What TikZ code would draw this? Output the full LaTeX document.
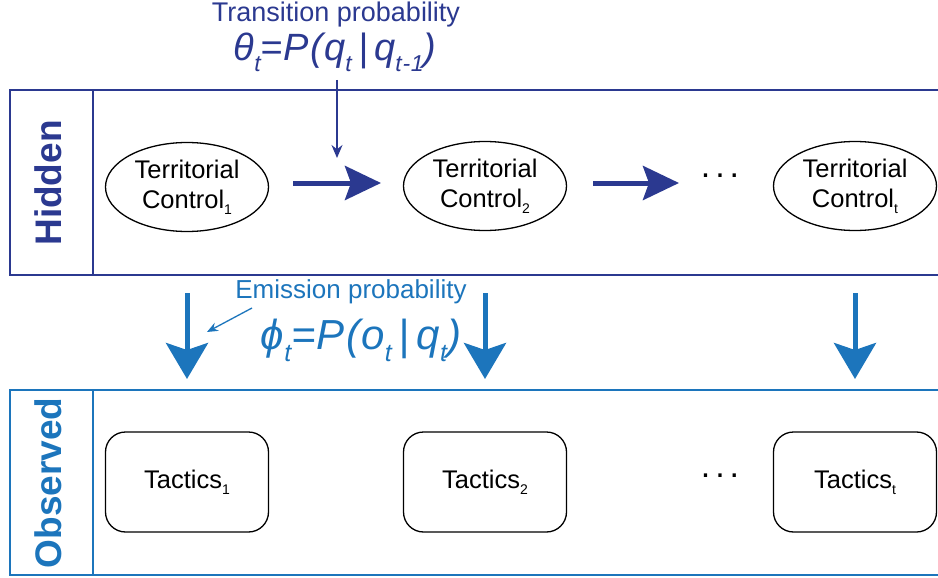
\documentclass[tikz,border=0pt]{standalone}
\usepackage{fontspec}
\setmainfont{Liberation Sans}
\newfontfamily\formfont[LetterSpace=3]{Liberation Sans}
\usetikzlibrary{arrows.meta,shapes.geometric}
\definecolor{hid}{RGB}{43,57,144}
\definecolor{obs}{RGB}{28,117,188}
\newcommand{\lowsub}[3]{\raisebox{-#2pt}{\fontsize{#1}{#1}\selectfont #3}}
\begin{document}
\begin{tikzpicture}[x=1pt,y=-1pt,
  state/.style={ellipse,draw,line width=1.3pt,minimum width=163pt,minimum height=89pt,inner sep=0pt,align=center,font=\fontsize{25.5}{30}\selectfont},
  obsbox/.style={rectangle,rounded corners=20pt,draw,line width=1.3pt,minimum width=163pt,minimum height=100pt,inner sep=0pt,font=\fontsize{25.5}{30}\selectfont},
  band/.style={line width=1.6pt},
  harrow/.style={line width=5pt,-{Stealth[length=36pt,width=34pt,inset=6pt]},color=hid},
  varrow/.style={line width=5pt,-{Stealth[length=36pt,width=42pt,inset=7pt]},color=obs},
  thinarrow/.style={line width=1.3pt,-{Stealth[length=13pt,width=11pt]}},
  dots/.style={font=\fontsize{34}{30}\selectfont},
  bandlabel/.style={rotate=90,font=\fontsize{37}{40}\selectfont\bfseries}
]
\useasboundingbox (0,0) rectangle (938,578);
% bands
\draw[band,hid] (10,90) rectangle (945,275);
\draw[band,hid] (93,90) -- (93,275);
\draw[band,obs] (10,390) rectangle (945,575);
\draw[band,obs] (93,390) -- (93,575);
\node[bandlabel,hid] (hl) at (48,183) {Hidden};
\node[bandlabel,obs] (ol) at (48,483) {Observed};
% hidden states
\node[state] (s1) at (187,187) {Territorial\\Control\lowsub{14}{6}{1}};
\node[state] (s2) at (485,186) {Territorial\\Control\lowsub{14}{6}{2}};
\node[state] (s3) at (855,186) {Territorial\\Control\lowsub{14}{6}{t}};
\node[dots] (hd) at (720,176) {.\hspace{5pt}.\hspace{5pt}.};
\coordinate (h1a) at (293,183);
\coordinate (h1b) at (381,183);
\coordinate (h2a) at (593,183);
\coordinate (h2b) at (679,183);
\draw[harrow] (h1a) -- (h1b);
\draw[harrow] (h2a) -- (h2b);
% observed
\node[obsbox] (o1) at (187,482) {Tactics\lowsub{14}{6}{1}};
\node[obsbox] (o2) at (485,482) {Tactics\lowsub{14}{6}{2}};
\node[obsbox] (o3) at (855,482) {Tactics\lowsub{14}{6}{t}};
\node[dots] (od) at (720,476) {.\hspace{5pt}.\hspace{5pt}.};
% emission arrows
\coordinate (v1a) at (187,293); \coordinate (v1b) at (187,379);
\coordinate (v2a) at (485,293); \coordinate (v2b) at (485,379);
\coordinate (v3a) at (855,293); \coordinate (v3b) at (855,379);
\draw[varrow] (v1a) -- (v1b);
\draw[varrow] (v2a) -- (v2b);
\draw[varrow] (v3a) -- (v3b);
% transition label
\node[hid,font=\fontsize{27}{30}\selectfont] (tl) at (336,15) {Transition probability};
\node[hid,font=\fontsize{38}{40}\selectfont\formfont\itshape] (tf) at (335,52) {θ\lowsub{23}{11}{t}=P(q\lowsub{23}{11}{t}\,|\,q\lowsub{23}{11}{t-1})};
\coordinate (ta) at (337,80);
\coordinate (tb) at (337,158);
\draw[thinarrow,hid] (ta) -- (tb);
% emission label
\node[obs,font=\fontsize{26}{30}\selectfont] (el) at (351,292) {Emission probability};
\node[obs,font=\fontsize{42}{44}\selectfont\formfont\itshape] (ef) at (361,340) {ϕ\lowsub{25}{12}{t}=P(o\lowsub{25}{12}{t}\,|\,q\lowsub{25}{12}{t})};
\coordinate (ea) at (252,308);
\coordinate (eb) at (207,332);
\draw[line width=1.3pt,obs,-{Stealth[length=11pt,width=9pt]}] (ea) -- (eb);
\end{tikzpicture}
\end{document}
